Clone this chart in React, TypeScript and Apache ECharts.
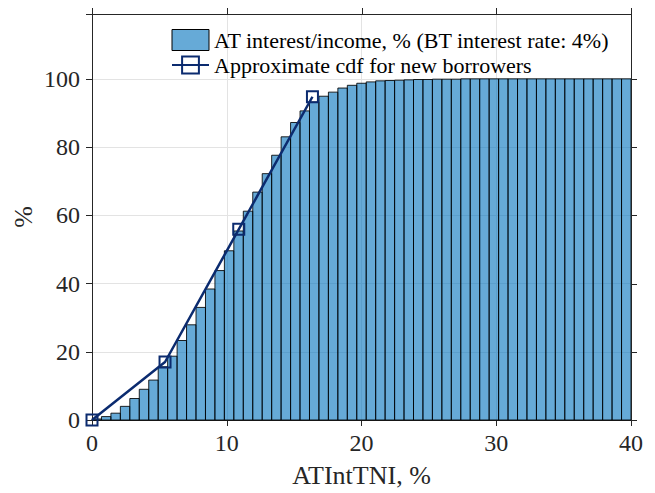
import React, { useEffect, useRef } from "react";
import * as echarts from "echarts";

// Histogram: cumulative share (%) for each of 57 equal bins spanning 0..40 (ATIntTNI, %)
const BIN_COUNT = 57;
const X_MIN = 0;
const X_MAX = 40;
const histValues = [
  0.3, 1.0, 2.0, 4.0, 6.3, 9.0, 11.7, 15.6, 18.7, 23.3,
  27.9, 33.0, 38.4, 43.8, 49.6, 55.4, 61.2, 66.8, 72.2, 77.6,
  83.0, 87.2, 90.6, 93.2, 94.9, 96.1, 97.3, 98.1, 98.7, 99.1,
  99.4, 99.5, 99.6, 99.7, 99.8, 99.8, 99.9, 99.9, 99.9, 100,
  100, 100, 100, 100, 100, 100, 100, 100, 100, 100,
  100, 100, 100, 100, 100, 100, 100,
];

// Approximate cdf for new borrowers
const cdfX = [0, 5.42, 10.89, 16.36];
const cdfY = [0, 17.0, 55.9, 94.75];

const xTicks = [0, 10, 20, 30, 40];
const yTicks = [0, 20, 40, 60, 80, 100];
const Y_MAX = 119;
const Y_LABEL_MAX = 100;

const histName = "AT interest/income, % (BT interest rate: 4%)";
const cdfName = "Approximate cdf for new borrowers";
const xTitle = "ATIntTNI, %";
const yTitle = "%";

const FONT = "Liberation Serif, Times New Roman, serif";
const AXIS_COLOR = "#262626";
const GRID_COLOR = "#e3e3e3";
const BAR_FILL = "rgba(0,114,189,0.6)";
const LINE_COLOR = "#0b2b6f";
const TICK_LEN = 6;
const GRID_BOX = { left: 92, right: 24, top: 14, bottom: 71 };

export default function App() {
  const ref = useRef<HTMLDivElement>(null);

  useEffect(() => {
    if (!ref.current) return;
    const chart = echarts.init(ref.current, undefined, { renderer: "svg" });

    const binW = (X_MAX - X_MIN) / BIN_COUNT;
    const histData = histValues.map((v, i) => [X_MIN + i * binW, X_MIN + (i + 1) * binW, v]);
    const lineData = cdfX.map((x, i) => [x, cdfY[i]]);

    const axisLine = { show: true, onZero: false, lineStyle: { color: AXIS_COLOR, width: 1 } };
    const tick = { show: true, length: TICK_LEN, lineStyle: { color: AXIS_COLOR, width: 1 } };
    const yFmt = (v: number) => (v > Y_LABEL_MAX ? "" : String(v));

    // Frame (top + right sides, outward ticks) drawn in a custom series through the scales
    const frameData = [[0]];
    const renderFrame = (params: any, api: any) => {
      const tl = api.coord([X_MIN, Y_MAX]);
      const br = api.coord([X_MAX, 0]);
      const c = (v: number) => Math.round(v) + 0.5;
      const ls = { stroke: AXIS_COLOR, lineWidth: 1 };
      const children: any[] = [
        { type: "line", shape: { x1: tl[0], y1: c(tl[1]), x2: br[0], y2: c(tl[1]) }, style: ls },
        { type: "line", shape: { x1: c(br[0]), y1: tl[1], x2: c(br[0]), y2: br[1] }, style: ls },
      ];
      xTicks.forEach((t) => {
        const p = api.coord([t, Y_MAX]);
        children.push({ type: "line", shape: { x1: c(p[0]), y1: p[1], x2: c(p[0]), y2: p[1] - TICK_LEN }, style: ls });
      });
      yTicks.forEach((t) => {
        const p = api.coord([X_MAX, t]);
        children.push({ type: "line", shape: { x1: p[0], y1: c(p[1]), x2: p[0] + TICK_LEN, y2: c(p[1]) }, style: ls });
      });
      return { type: "group", children };
    };

    chart.setOption({
      animation: false,
      textStyle: { fontFamily: FONT },
      grid: { ...GRID_BOX, containLabel: false },
      legend: {
        orient: "vertical",
        left: 166,
        top: 24,
        itemWidth: 37,
        itemHeight: 21,
        itemGap: 3,
        textStyle: { fontFamily: FONT, fontSize: 22, color: "#000" },
        data: [
          {
            name: histName,
            icon: "rect",
            itemStyle: { color: BAR_FILL, borderColor: "#000", borderWidth: 1 },
          },
          { name: cdfName },
        ],
      },
      xAxis: {
        type: "value",
        position: "bottom",
        min: X_MIN,
        max: X_MAX,
        interval: 10,
        name: xTitle,
        nameLocation: "middle",
        nameGap: 42,
        nameMoveOverlap: false,
        nameTextStyle: { fontFamily: FONT, fontSize: 26, color: AXIS_COLOR },
        axisLine,
        axisTick: tick,
        axisLabel: { fontFamily: FONT, fontSize: 24, color: AXIS_COLOR, margin: 11 },
        splitLine: { show: true, lineStyle: { color: GRID_COLOR, width: 1 } },
      },
      yAxis: {
        type: "value",
        position: "left",
        min: 0,
        max: Y_MAX,
        interval: 20,
        name: yTitle,
        nameLocation: "middle",
        nameRotate: 90,
        nameGap: 56,
        nameMoveOverlap: false,
        nameTextStyle: { fontFamily: FONT, fontSize: 26, color: AXIS_COLOR },
        axisLine,
        axisTick: tick,
        axisLabel: { fontFamily: FONT, fontSize: 24, color: AXIS_COLOR, margin: 12, formatter: yFmt },
        splitLine: { show: true, lineStyle: { color: GRID_COLOR, width: 1 } },
      },
      series: [
        {
          name: histName,
          type: "custom",
          encode: { x: [0, 1], y: 2 },
          itemStyle: { color: BAR_FILL, borderColor: "#000", borderWidth: 1 },
          renderItem: (params: any, api: any) => {
            const p0 = api.coord([api.value(0), api.value(2)]);
            const p1 = api.coord([api.value(1), 0]);
            return {
              type: "rect",
              shape: { x: p0[0], y: p0[1], width: p1[0] - p0[0], height: p1[1] - p0[1] },
              style: { fill: BAR_FILL, stroke: "rgba(0,0,0,0.85)", lineWidth: 1 },
            };
          },
          data: histData,
          z: 2,
        },
        {
          name: cdfName,
          type: "line",
          data: lineData,
          clip: false,
          symbol: "rect",
          symbolSize: 11,
          showAllSymbol: true,
          lineStyle: { color: LINE_COLOR, width: 2.5 },
          itemStyle: { color: "rgba(255,255,255,0)", borderColor: LINE_COLOR, borderWidth: 2 },
          z: 3,
        },
        {
          name: "frame",
          type: "custom",
          clip: false,
          silent: true,
          renderItem: renderFrame,
          data: frameData,
          z: 10,
        },
      ],
    });

    return () => chart.dispose();
  }, []);

  return (
    <div
      ref={ref}
      style={{ position: "fixed", left: 0, top: 0, width: 655, height: 493, background: "#fff" }}
    />
  );
}
